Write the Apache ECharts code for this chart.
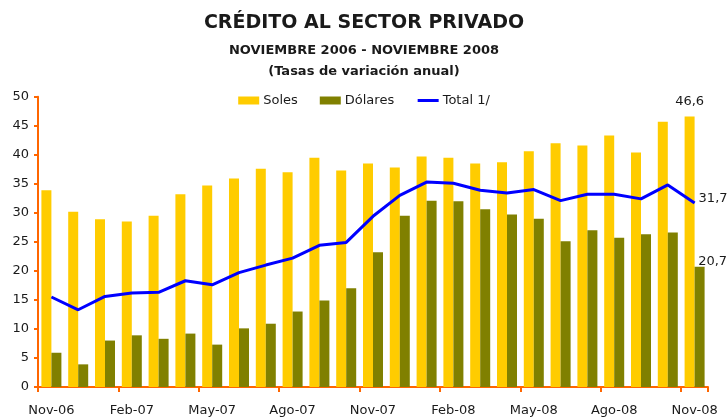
<!DOCTYPE html>
<html>
<head>
<meta charset="utf-8">
<script src="https://cdn.jsdelivr.net/npm/echarts@6/dist/echarts.min.js"></script>
<style>
  html, body { margin: 0; padding: 0; background: #fff; }
  #chart { width: 728px; height: 418px; }
</style>
</head>
<body>
<div id="chart"></div>
<script>
// meses nov-06 .. nov-08
var months = ['Nov-06','Dic-06','Ene-07','Feb-07','Mar-07','Abr-07','May-07','Jun-07','Jul-07','Ago-07','Set-07','Oct-07',
              'Nov-07','Dic-07','Ene-08','Feb-08','Mar-08','Abr-08','May-08','Jun-08','Jul-08','Ago-08','Set-08','Oct-08','Nov-08'];
var soles = [33.9, 30.2, 28.9, 28.5, 29.5, 33.2, 34.7, 35.9, 37.6, 37.0, 39.5, 37.3,
             38.5, 37.8, 39.7, 39.5, 38.5, 38.7, 40.6, 42.0, 41.6, 43.3, 40.4, 45.7, 46.6];
var dolares = [5.9, 3.9, 8.0, 8.9, 8.3, 9.2, 7.3, 10.1, 10.9, 13.0, 14.9, 17.0,
               23.2, 29.5, 32.1, 32.0, 30.6, 29.7, 29.0, 25.1, 27.0, 25.7, 26.3, 26.6, 20.7];
var total = [15.5, 13.3, 15.6, 16.2, 16.3, 18.3, 17.6, 19.7, 21.0, 22.2, 24.4, 24.9,
             29.4, 33.0, 35.3, 35.1, 33.9, 33.4, 34.0, 32.1, 33.2, 33.2, 32.4, 34.8, 31.7];

var font = 'DejaVu Sans';
var txt = '#1a1a1a';
var axisColor = '#FF6600';

function fmt(v) { return String(v).replace('.', ','); }
function lastOnly(p) {
  return p.dataIndex === months.length - 1 ? fmt(p.value) : '';
}

var chart = echarts.init(document.getElementById('chart'));
chart.setOption({
  animation: false,
  backgroundColor: '#fff',
  textStyle: { fontFamily: font, color: txt },
  title: [
    { text: 'CRÉDITO AL SECTOR PRIVADO', left: 'center', top: 9,
      textStyle: { fontSize: 19, fontWeight: 'bold', color: txt, fontFamily: font } },
    { text: 'NOVIEMBRE 2006 - NOVIEMBRE 2008', left: 'center', top: 39,
      textStyle: { fontSize: 13, fontWeight: 'bold', color: txt, fontFamily: font } },
    { text: '(Tasas de variación anual)', left: 'center', top: 60,
      textStyle: { fontSize: 13, fontWeight: 'bold', color: txt, fontFamily: font } }
  ],
  legend: {
    top: 89, left: 'center',
    itemWidth: 21, itemHeight: 8, itemGap: 22,
    textStyle: { fontSize: 13, color: txt, fontFamily: font, padding: [0, 0, 0, -1] },
    data: [
      { name: 'Soles', icon: 'rect' },
      { name: 'Dólares', icon: 'rect' },
      { name: 'Total 1/', itemStyle: { opacity: 0 }, lineStyle: { width: 3, color: '#0000FF' } }
    ]
  },
  grid: { left: 38, right: 20, top: 96.7, bottom: 31 },
  xAxis: {
    type: 'category',
    data: months,
    boundaryGap: true,
    axisLine: { lineStyle: { color: axisColor, width: 2 } },
    axisTick: { show: true, interval: 2, length: 5, lineStyle: { color: axisColor, width: 2 } },
    axisLabel: { interval: 2, color: txt, fontSize: 13, margin: 17, fontFamily: font }
  },
  yAxis: {
    type: 'value',
    min: 0, max: 50, interval: 5,
    splitLine: { show: false },
    axisLine: { show: true, lineStyle: { color: axisColor, width: 2 } },
    axisTick: { show: true, length: 4, lineStyle: { color: axisColor, width: 2 } },
    axisLabel: { color: txt, fontSize: 13, margin: 9, fontFamily: font }
  },
  series: [
    {
      name: 'Soles', type: 'bar', data: soles,
      barWidth: 10, barGap: '0%',
      itemStyle: { color: '#FFCC00' },
      label: { show: true, position: 'top', distance: 8, fontSize: 13, color: txt, formatter: lastOnly }
    },
    {
      name: 'Dólares', type: 'bar', data: dolares,
      barWidth: 10,
      itemStyle: { color: '#808000' },
      label: { show: true, position: 'top', offset: [13, 6], fontSize: 13, color: txt, formatter: lastOnly }
    },
    {
      name: 'Total 1/', type: 'line', data: total,
      symbol: 'none',
      lineStyle: { color: '#0000FF', width: 3 },
      itemStyle: { color: '#0000FF' },
      endLabel: { show: true, distance: 4, offset: [0, -4], fontSize: 13, color: txt,
        formatter: function (p) { return fmt(p.value); } }
    }
  ]
});
</script>
</body>
</html>
